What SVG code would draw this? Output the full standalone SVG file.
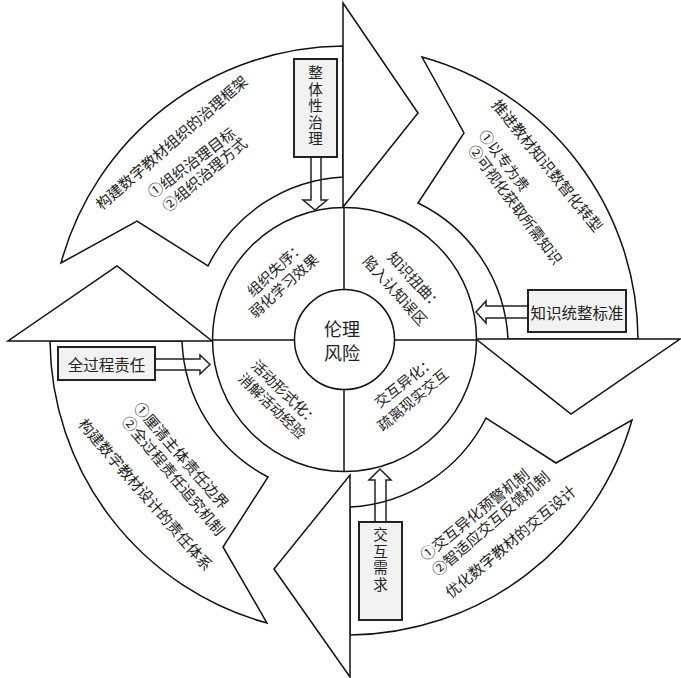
<svg xmlns="http://www.w3.org/2000/svg" width="681" height="678" viewBox="0 0 681 678">
<style>
.s{fill:#fff;stroke:#111;stroke-width:1.5;stroke-linejoin:miter}
.ln{fill:none;stroke:#111;stroke-width:1.5}
.box{fill:#f2f2f2;stroke:#222;stroke-width:2}
.ar{fill:none;stroke:#222;stroke-width:1.5;stroke-linejoin:miter}
text{font-family:"Noto Sans CJK SC","Noto Sans",sans-serif;fill:#222;text-anchor:middle;dominant-baseline:central}
.b{font-size:15px}
.b2{font-size:14.5px}
.q{font-size:14.5px}
.bx{font-size:15.5px}
.v{font-size:14.5px;writing-mode:vertical-rl;text-anchor:start;letter-spacing:2px}
.c{font-size:18px}
</style>
<rect width="681" height="678" fill="#fff"/>

<g id="arrow-organization">
<path class="s" d="M343,46 A295,295 0 0 0 61,263 L137,221 L208,266 A160,160 0 0 1 343,177 Z"/>
<path class="s" d="M343,3 L418,113 L343,207 Z"/>
<text class="b" transform="translate(171,142) rotate(-41)">构建数字教材组织的治理框架</text>
<text class="b" transform="translate(191,162) rotate(-37)">①组织治理目标</text>
<text class="b" transform="translate(204,174) rotate(-40)">②组织治理方式</text>
</g>

<g id="arrow-knowledge">
<path class="s" d="M422,57 A294,294 0 0 1 638,339 L508,339 A160,160 0 0 0 418,203 L464,133 Z"/>
<path class="s" d="M476,339 L680,339 L571,414 Z"/>
<text class="b" transform="translate(548,165) rotate(51)">推进教材知识数智化转型</text>
<text class="b2" transform="translate(505,160) rotate(53)">①以专为贵</text>
<text class="b2" transform="translate(516,204) rotate(53)">②可视化获取所需知识</text>
</g>

<g id="arrow-interaction">
<path class="s" d="M632,420 A296,296 0 0 1 350,635 L350,507 A162,162 0 0 0 486,418 L556,463 Z"/>
<path class="s" d="M350,475 L350,677 L274,569 Z"/>
<text class="b" transform="translate(474,514) rotate(-39)">①交互异化预警机制</text>
<text class="b" transform="translate(490,523) rotate(-41)">②智适应交互反馈机制</text>
<text class="b" transform="translate(510,541) rotate(-40)">优化数字教材的交互设计</text>
</g>

<g id="arrow-responsibility">
<path class="s" d="M267,623 A295,295 0 0 1 50,341 L182,341 A160,160 0 0 0 268,477 L223,547 Z"/>
<path class="s" d="M8,341 L212,341 L117,266 Z"/>
<text class="b" transform="translate(182,455) rotate(49)">①厘清主体责任边界</text>
<text class="b" transform="translate(174,475) rotate(50)">②全过程责任追究机制</text>
<text class="b" transform="translate(146,494) rotate(49)">构建数字教材设计的责任体系</text>
</g>

<g id="risk-ring">
<circle class="s" cx="344.5" cy="339.5" r="132"/>
<line class="ln" x1="344" y1="207" x2="344" y2="472"/>
<line class="ln" x1="212" y1="340" x2="477" y2="340"/>
<text class="q" transform="translate(275,268) rotate(-43)">组织失序：</text>
<text class="q" transform="translate(283,285) rotate(-42)">弱化学习效果</text>
<text class="q" transform="translate(416,280) rotate(47)">知识扭曲：</text>
<text class="q" transform="translate(396,290) rotate(48)">陷入认知误区</text>
<text class="q" transform="translate(286,392) rotate(44)">活动形式化：</text>
<text class="q" transform="translate(273,405) rotate(44)">消解活动经验</text>
<text class="q" transform="translate(404,381) rotate(-38)">交互异化：</text>
<text class="q" transform="translate(412,399) rotate(-40)">疏离现实交互</text>
</g>

<g id="center">
<circle class="s" cx="344.5" cy="339.5" r="50"/>
<text class="c" x="342" y="328">伦理</text>
<text class="c" x="342" y="352">风险</text>
</g>

<g id="box-holistic">
<rect class="box" x="294" y="59" width="43" height="98"/>
<text class="v" x="315.5" y="65.5">整体性治理</text>
</g>
<g id="box-standard">
<rect class="box" x="528" y="290" width="98" height="42"/>
<text class="bx" x="577" y="311.5">知识统整标准</text>
</g>
<g id="box-process">
<rect class="box" x="58" y="347" width="97" height="33"/>
<text class="bx" x="106.5" y="363.5">全过程责任</text>
</g>
<g id="box-demand">
<rect class="box" x="359" y="522" width="43" height="98"/>
<text class="v" x="380.5" y="527.5">交互需求</text>
</g>

<g id="connectors">
<path class="ar" d="M311,158 L311,200 L303,200 L315,210 L327,200 L321,200 L321,158"/>
<path class="ar" d="M527,306 L486,306 L486,301 L476,312 L486,323 L486,318 L527,318"/>
<path class="ar" d="M156,359 L200,359 L200,355 L210,364.5 L200,374 L200,370 L156,370"/>
<path class="ar" d="M375,521 L375,480 L369,480 L380,469 L391,480 L386,480 L386,521"/>
</g>
</svg>
